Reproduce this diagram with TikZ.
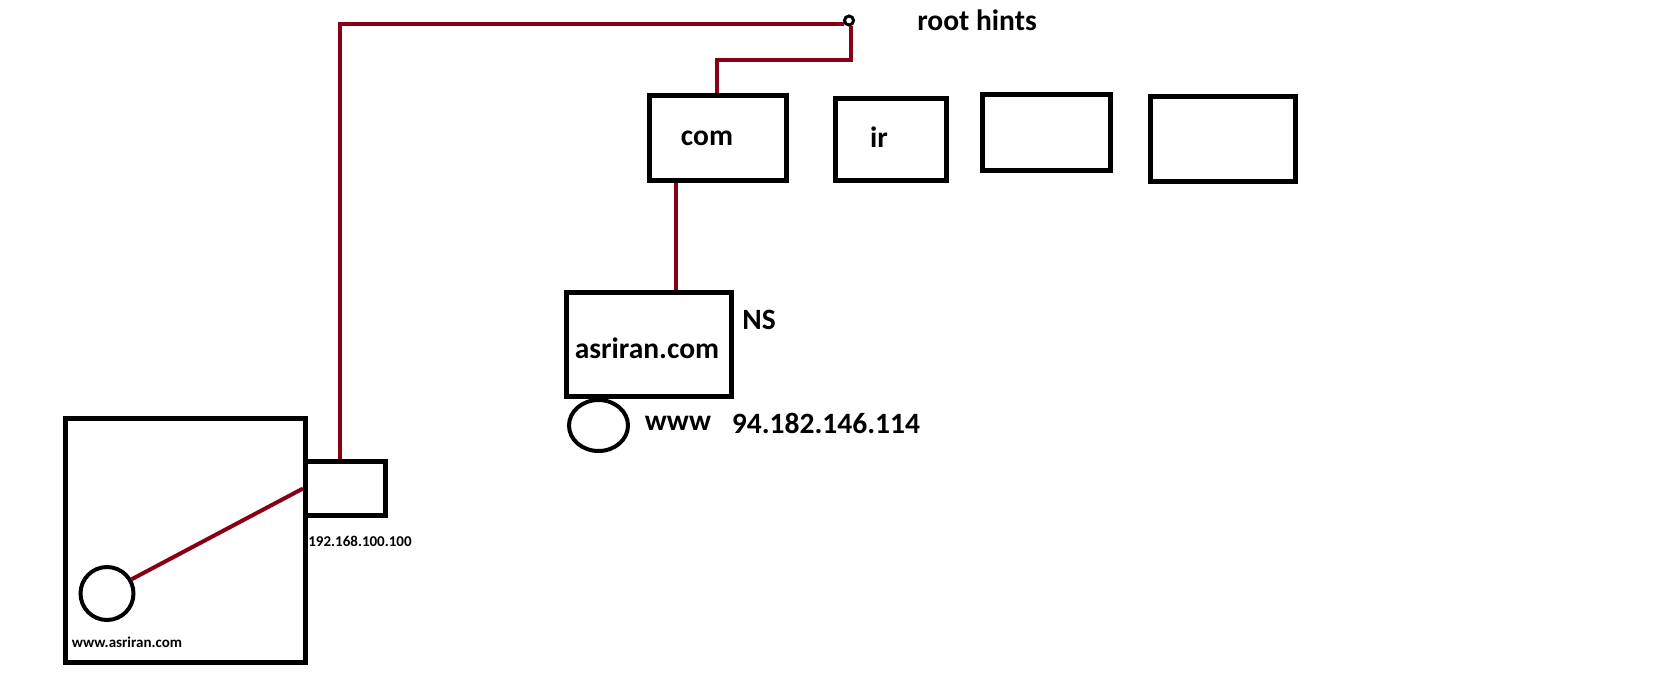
\documentclass[tikz,border=0pt]{standalone}
\usepackage{fontspec}
\setmainfont{Carlito}
\usetikzlibrary{shapes.geometric}
\definecolor{wirered}{RGB}{136,0,21}
\tikzset{
  box/.style={draw=black, line width=5pt, inner sep=0pt},
  wire/.style={draw=wirered, line width=4pt},
  big/.style={font=\fontsize{29.5}{33}\selectfont\bfseries, inner sep=0pt},
  small/.style={font=\fontsize{15}{17}\selectfont\bfseries, inner sep=0pt},
}
\begin{document}
\begin{tikzpicture}[x=1pt, y=-1pt]
\useasboundingbox (0,0) rectangle (1675,694);
% boxes
\node[box, minimum width=137pt, minimum height=85pt] (com) at (718,138) {};
\node[box, minimum width=111pt, minimum height=82pt] (ir) at (891,139.5) {};
\node[box, minimum width=128pt, minimum height=76pt] (b3) at (1046.5,132.5) {};
\node[box, minimum width=145pt, minimum height=85pt] (b4) at (1223,139) {};
\node[box, minimum width=165pt, minimum height=104pt] (asr) at (649,344.5) {};
\node[box, ellipse, line width=4pt, minimum width=59pt, minimum height=51pt] (www) at (598.5,425.5) {};
\node[box, minimum width=240pt, minimum height=244pt] (pc) at (185.5,540.5) {};
\node[box, minimum width=80pt, minimum height=54pt] (router) at (345.5,488.5) {};
\node[box, circle, line width=4pt, minimum size=53pt] (client) at (107,593.5) {};
\node[draw=black, circle, line width=3pt, minimum size=9pt, inner sep=0pt] (root) at (849,20.5) {};
% labels
\node[big] (lroot) at (977,20) {root hints};
\node[big] (lcom) at (707,138) {com};
\node[big] (lir) at (879,137) {ir};
\node[big] (lasr) at (647,348) {asriran.com};
\node[big] (lns) at (759,320) {NS};
\node[big] (lwww) at (678,423) {www};
\node[big] (lip) at (826,423) {94.182.146.114};
\node[small] (lrouter) at (360,541) {192.168.100.100};
\node[small] (lpc) at (127,642) {www.asriran.com};
% wires
\coordinate (drop) at ([xshift=-6pt]router.north);
\draw[wire] (root.220) -- (root.220 -| drop) -- (drop);
\draw[wire] (root.-70) |- (717,60) coordinate (cm) -- (cm |- com.north);
\coordinate (asrtop) at ([xshift=27pt]asr.north);
\draw[wire] (asrtop) -- (asrtop |- com.south);
\draw[wire] (client.30) -- (router.west);
\end{tikzpicture}
\end{document}
